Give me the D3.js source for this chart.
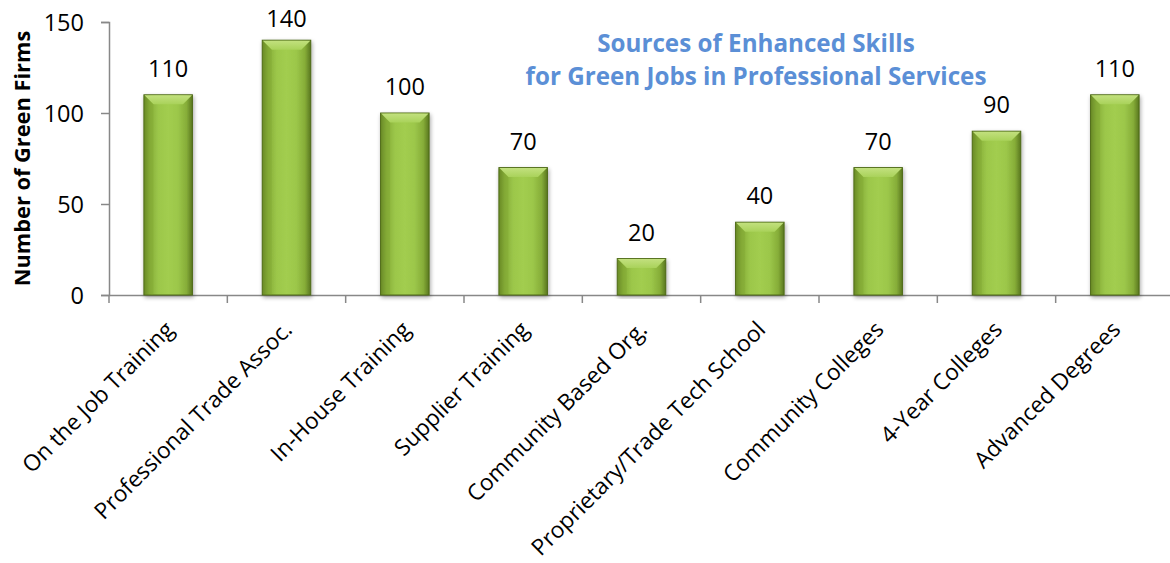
<!DOCTYPE html>
<html><head><meta charset="utf-8">
<script src="https://cdn.jsdelivr.net/npm/d3@7"></script>
<style>body{margin:0;background:#fff}svg{display:block}</style>
</head><body>
<svg id="c" width="1170" height="563"></svg>
<script>
const categories = ["On the Job Training","Professional Trade Assoc.","In-House Training","Supplier Training","Community Based Org.","Proprietary/Trade Tech School","Community Colleges","4-Year Colleges","Advanced Degrees"];
const values = [110,140,100,70,20,40,70,90,110];
const yTicks = [0,50,100,150];
const titleLines = ["Sources of Enhanced Skills","for Green Jobs in Professional Services"];
const yTitle = "Number of Green Firms";

(function(){
const svg = d3.select("#c");
const font = "'Open Sans', sans-serif";
const mLeft = 109, mRight = 1174, mTop = 22, mBottom = 295;

const x = d3.scaleBand().domain(categories).range([mLeft, mRight]).paddingInner(0.59).paddingOuter(0.295);
const y = d3.scaleLinear().domain([0,150]).range([mBottom, mTop]);

const defs = svg.append("defs");
const g1 = defs.append("linearGradient").attr("id","barG").attr("x1","0").attr("x2","1").attr("y1","0").attr("y2","0");
[[0,"#5f7d22"],[0.12,"#86ad38"],[0.3,"#9cc74a"],[0.5,"#a2cd4f"],[0.7,"#9cc74a"],[0.88,"#86ad38"],[1,"#5a771f"]].forEach(s=>g1.append("stop").attr("offset",s[0]).attr("stop-color",s[1]));
const g2 = defs.append("linearGradient").attr("id","bevG").attr("x1","0").attr("x2","0").attr("y1","0").attr("y2","1");
[[0,"#c2e07e"],[1,"#a9d25a"]].forEach(s=>g2.append("stop").attr("offset",s[0]).attr("stop-color",s[1]));
const sh = defs.append("filter").attr("id","shadow").attr("x","-20%").attr("y","-5%").attr("width","140%").attr("height","115%");
sh.append("feGaussianBlur").attr("in","SourceAlpha").attr("stdDeviation",2);
sh.append("feOffset").attr("dx",1).attr("dy",2).attr("result","b");
sh.append("feComponentTransfer").append("feFuncA").attr("type","linear").attr("slope",0.35);
const mg = sh.append("feMerge"); mg.append("feMergeNode"); mg.append("feMergeNode").attr("in","SourceGraphic");

// Y axis
const yAxis = svg.append("g").attr("transform",`translate(${mLeft},0)`)
  .call(d3.axisLeft(y).tickValues(yTicks).tickSize(8).tickPadding(17));
yAxis.select(".domain").attr("stroke","#888").attr("stroke-width",1.5);
yAxis.selectAll(".tick line").attr("stroke","#888").attr("stroke-width",1.5);
yAxis.selectAll(".tick text").attr("font-family",font).attr("font-size",23.5).attr("fill","#000").attr("dy","0.36em");

// X axis
const xAxis = svg.append("g").attr("transform",`translate(0,${mBottom})`)
  .call(d3.axisBottom(x).tickSize(0).tickFormat(""));
xAxis.select(".domain").attr("stroke","#888").attr("stroke-width",1.5);
xAxis.selectAll(".tick").remove();
const step = x.step();
svg.append("g").selectAll("line").data(d3.range(categories.length+1)).join("line")
  .attr("x1",i=>mLeft+i*step).attr("x2",i=>mLeft+i*step)
  .attr("y1",mBottom).attr("y2",mBottom+8).attr("stroke","#888").attr("stroke-width",1.5);

// Bars
const bars = svg.append("g").selectAll("g").data(categories).join("g");
bars.append("rect")
  .attr("x",d=>x(d)).attr("width",x.bandwidth())
  .attr("y",(d,i)=>y(values[i])).attr("height",(d,i)=>y(0)-y(values[i]))
  .attr("fill","url(#barG)").attr("stroke","#4e6a18").attr("stroke-width",1).attr("filter","url(#shadow)");
const bev = 9;
bars.append("path")
  .attr("d",(d,i)=>{const x0=x(d)+0.5,x1=x(d)+x.bandwidth()-0.5,y0=y(values[i])+0.5;
    return `M${x0},${y0}L${x1},${y0}L${x1-bev},${y0+bev}L${x0+bev},${y0+bev}Z`;})
  .attr("fill","url(#bevG)");
bars.append("path")
  .attr("d",(d,i)=>{const x0=x(d)+0.5,x1=x(d)+x.bandwidth()-0.5,y0=y(values[i])+0.5,y1=y(0)-0.5;
    return `M${x0},${y0}L${x0+bev},${y0+bev}L${x0+bev},${y1}L${x0},${y1}Z`;})
  .attr("fill","#7ea232").attr("opacity",0.35);

// Value labels (kept inside the plot area, as the original does)
svg.append("g").selectAll("text").data(categories).join("text")
  .attr("x",d=>x(d)+x.bandwidth()/2).attr("y",(d,i)=>Math.max(y(values[i])-18, 27))
  .attr("text-anchor","middle").attr("font-family",font).attr("font-size",23.5).attr("fill","#000")
  .text((d,i)=>values[i]);

// Category labels
svg.append("g").selectAll("text").data(categories).join("text")
  .attr("transform",d=>`translate(${x(d)+x.bandwidth()/2+7},${mBottom+36}) rotate(-45)`)
  .attr("text-anchor","end").attr("font-family",font).attr("font-size",22.6).attr("fill","#000")
  .text(d=>d);

// Y title
svg.append("text").attr("transform",`translate(30,${(mTop+mBottom)/2}) rotate(-90)`)
  .attr("text-anchor","middle").attr("font-family",font).attr("font-weight","bold").attr("font-size",21.8).attr("fill","#000")
  .text(yTitle);

// Chart title
svg.append("g").selectAll("text").data(titleLines).join("text")
  .attr("x",756).attr("y",(d,i)=>52+i*33).attr("text-anchor","middle")
  .attr("font-family",font).attr("font-weight","bold").attr("font-size",24.2).attr("fill","#5b8fd6")
  .text(d=>d);
})();
</script>
</body></html>
